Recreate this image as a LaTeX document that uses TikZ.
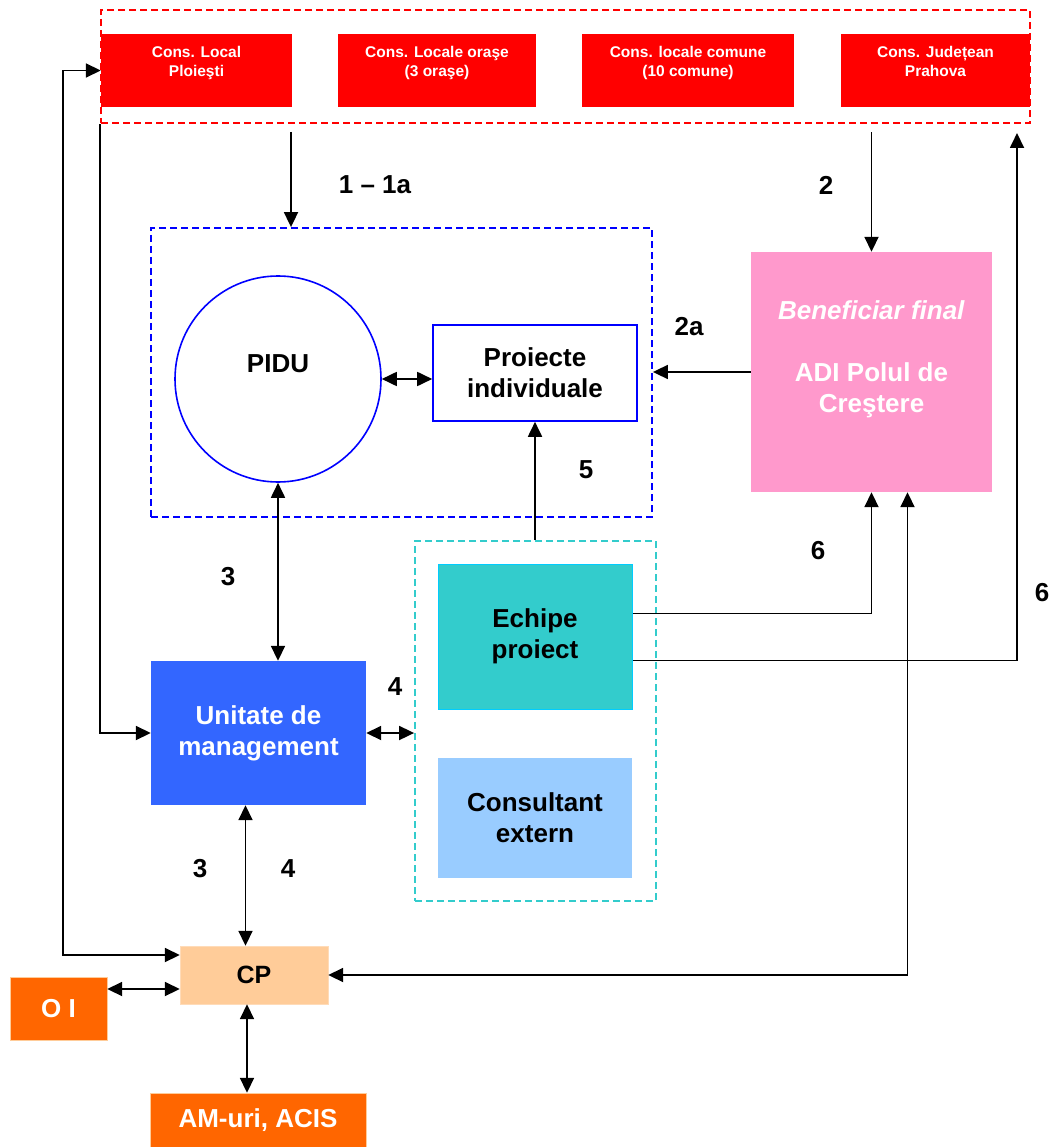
\documentclass[tikz,border=0pt]{standalone}
\usepackage{fontspec}
\setmainfont{Liberation Sans}
\usetikzlibrary{arrows.meta}
\definecolor{consred}{HTML}{FF0000}
\definecolor{pidublue}{HTML}{0000FF}
\definecolor{benefpink}{HTML}{FF99CC}
\definecolor{umblue}{HTML}{3366FF}
\definecolor{teamteal}{HTML}{33CCCC}
\definecolor{teamcyan}{HTML}{00CCFF}
\definecolor{consblue}{HTML}{99CCFF}
\definecolor{cppeach}{HTML}{FFCC99}
\definecolor{oiorange}{HTML}{FF6600}

\begin{document}
\begin{tikzpicture}[x=1pt,y=-1pt,
		>={Triangle[length=15pt,width=14pt]},
		every node/.style={font=\bfseries\fontsize{26}{31}\selectfont,align=center,inner sep=0pt},
		small/.style={font=\bfseries\fontsize{15.5}{19}\selectfont},
		group/.style={draw=#1,dash pattern=on 7pt off 4pt,line width=1.8pt,rectangle},
		flow/.style={line width=1.8pt}]
		\useasboundingbox (0,0) rectangle (1053,1147);

		% consilii
		\node[fill=consred,text=white,small,minimum width=191,minimum height=73] (ploiesti) at (196.5,70.5) {Cons. Local\\Ploieşti\\~};
		\node[fill=consred,text=white,small,minimum width=198,minimum height=73] (orase) at (437,70.5) {Cons. Locale oraşe\\(3 oraşe)\\~};
		\node[fill=consred,text=white,small,minimum width=212,minimum height=73] (comune) at (688,70.5) {Cons. locale comune\\(10 comune)\\~};
		\node[fill=consred,text=white,small,minimum width=189,minimum height=73] (judet) at (935.5,70.5) {Cons. Județean\\Prahova\\~};
		\node[group=consred,minimum width=929,minimum height=113] (consiliu) at (565.5,66.5) {};

		% PIDU
		\node[group=pidublue,minimum width=501,minimum height=289] (pachet) at (401.5,372.5) {};
		\node[circle,draw=pidublue,line width=1.6pt,minimum size=206] (pidu) at (278,379) {PIDU\\~};
		\node[draw=pidublue,line width=1.6pt,minimum width=204,minimum height=96] (proiecte) at (535,373) {Proiecte\\individuale};

		\node[fill=benefpink,text=white,minimum width=241,minimum height=240] (benef) at (871.5,372) {\textit{Beneficiar final}\\~\\ADI Polul de\\Creştere\\~};

		% echipe
		\node[group=teamteal,minimum width=241,minimum height=360] (echipa) at (535.5,721) {};
		\node[fill=teamteal,draw=teamcyan,line width=1pt,minimum width=194,minimum height=145] (echipe) at (535,636.5) {Echipe\\proiect};
		\node[fill=consblue,minimum width=194,minimum height=120] (consultant) at (535,818) {Consultant\\extern};

		\node[fill=umblue,text=white,minimum width=215,minimum height=144] (unitate) at (258.5,733) {Unitate de\\management};

		\node[fill=cppeach,draw=cppeach!70,minimum width=148,minimum height=58,font=\bfseries\fontsize{25}{30}\selectfont] (cp) at (254,975) {CP};
		\node[fill=oiorange,draw=cppeach,text=white,minimum width=97,minimum height=63] (oi) at (58.5,1008.5) {O I};
		\node[fill=oiorange,draw=cppeach,text=white,minimum width=216,minimum height=54] (am) at (258,1120) {AM-uri, ACIS};

		\coordinate (lt) at (63,955);
		\coordinate (s1) at (291,132);
		\coordinate (s6) at (1017,133);

		% legaturi
		\draw[flow,<->] (ploiesti.west) -| (lt) -- ([yshift=20pt]cp.west);
		\draw[flow,->] (consiliu.south west) |- (unitate.west);
		\draw[flow,->] (s1) -- (s1 |- pachet.north);
		\draw[flow,<-] (benef.north) -- ++(0,-120);
		\draw[flow,->] ([yshift=-24pt]echipe.east) -| (s6);
		\draw[flow,->] ([yshift=23pt]echipe.east) -| (benef.south);
		\draw[flow,<->] (cp.east) -| ([xshift=36pt]benef.south);
		\draw[flow,->] (benef.west) -- (benef.west -| pachet.east);
		\draw[flow,->] (proiecte.south |- echipa.north) -- (proiecte.south);
		\draw[flow,<->] (pidu.east) -- (pidu.east -| proiecte.west);
		\draw[flow,<->] (pidu.south) -- (pidu.south |- unitate.north);
		\draw[flow,<->] (unitate.east) -- (unitate.east -| echipa.west);
		\draw[flow,<->] ([xshift=-13pt]unitate.south) -- ([xshift=-13pt]unitate.south |- cp.north);
		\draw[flow,<->] ([yshift=19.5pt]oi.east) -- ([yshift=19.5pt]oi.east -| cp.west);
		\draw[flow,<->] ([xshift=-7pt]cp.south) -- ([xshift=-7pt]cp.south |- am.north);

		% etichete
		\node (n1) at (375,185) {1 – 1a};
		\node (n2) at (826,185) {2};
		\node (n2a) at (689,327) {2a};
		\node (n5) at (586,470) {5};
		\node (n3a) at (228,577) {3};
		\node (n6a) at (818,551) {6};
		\node (n6b) at (1042,593) {6};
		\node (n4a) at (395,687) {4};
		\node (n3b) at (200,869) {3};
		\node (n4b) at (288,869) {4};
	\end{tikzpicture}
\end{document}
